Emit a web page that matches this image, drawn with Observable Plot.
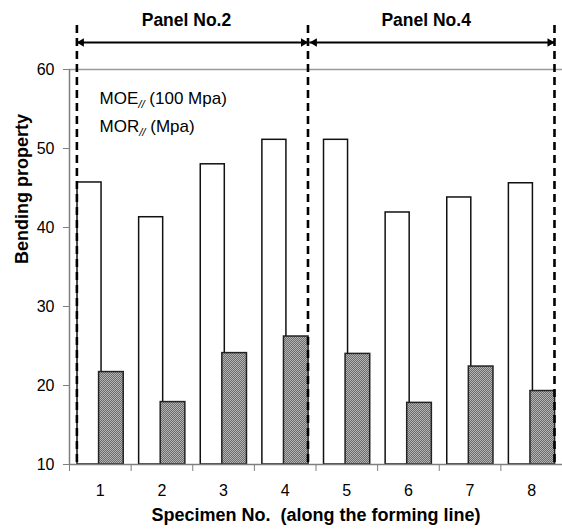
<!DOCTYPE html>
<html><head><meta charset="utf-8">
<script src="https://cdn.jsdelivr.net/npm/d3@7"></script>
<script src="https://cdn.jsdelivr.net/npm/@observablehq/plot@0.6"></script>
<style>body{margin:0;background:#fff} svg{display:block}</style>
</head><body><div id="chart"></div>
<script>
// ---- data ----
const specimens = [1, 2, 3, 4, 5, 6, 7, 8];
const moe = [45.7, 41.3, 48.0, 51.1, 51.1, 41.9, 43.8, 45.6]; // MOE// (100 Mpa)
const mor = [21.7, 17.9, 24.1, 26.2, 24.0, 17.8, 22.4, 19.3]; // MOR// (Mpa)
const yTicks = [10, 20, 30, 40, 50, 60];
const panelNames = ["Panel No.2", "Panel No.4"];
const panelFirst = [1, 5];
const panelLast = [4, 8];
const legendLabels = ["MOE// (100 Mpa)", "MOR// (Mpa)"];
const yTitle = "Bending property";
const xTitle = "Specimen No.\u00a0 (along the forming line)";

// ---- derived ----
const data = specimens.map((s, i) => ({s, moe: moe[i], mor: mor[i]}));
const bounds = [panelFirst[0] - 0.38, ...panelLast.map(l => l + 0.37)];
const arrows = panelNames.map((name, i) => ({name, x1: bounds[i] + (i > 0 ? 0.03 : 0), x2: bounds[i + 1]}));
const boundaryTicks = d3.range(specimens.length + 1).map(i => i + 0.5);
const legend = legendLabels.map((t, i) => ({t, i}));
const font = "Liberation Sans, Arial, sans-serif";
const gray = "#7f7f7f";

const svg = Plot.plot({
  width: 562, height: 531,
  marginLeft: 69, marginRight: 0, marginTop: 69, marginBottom: 67,
  style: {fontFamily: font, fontSize: "16px", color: "#000", background: "#fff"},
  x: {type: "linear", domain: [0.5, 8.5], axis: null},
  y: {domain: [10, 60], axis: null},
  marks: [
    Plot.ruleY([60], {stroke: "#9a9a9a", strokeWidth: 1.5}),
    Plot.rect(data, {x1: d => d.s - 0.37, x2: d => d.s + 0.02, y1: d => 10, y2: "moe", fill: "white", stroke: "#111", strokeWidth: 1.5}),
    Plot.rect(data, {x1: d => d.s - 0.02, x2: d => d.s + 0.38, y1: d => 10, y2: "mor", fill: "url(#checker)", stroke: "#222", strokeWidth: 1.5}),
    Plot.ruleX([0.5], {stroke: gray, strokeWidth: 1.5}),
    Plot.ruleY([10], {stroke: gray, strokeWidth: 1.5}),
    Plot.axisY(yTicks, {tickSize: 6, tickPadding: 9, stroke: gray, fontSize: 16, fill: "#000"}),
    Plot.axisX(boundaryTicks, {tickSize: 7, tickFormat: () => "", stroke: gray}),
    Plot.axisX(specimens, {tickSize: 0, tickPadding: 20, fontSize: 16, fill: "#000"}),
    Plot.ruleX(bounds, {stroke: "#000", strokeWidth: 2.6, strokeDasharray: "8,5", insetTop: -44}),
    Plot.ruleY(arrows, {x1: "x1", x2: "x2", y: d => 60, dy: -27, stroke: "#000", strokeWidth: 2}),
    Plot.dot(arrows, {x: "x2", y: d => 60, dy: -27, dx: -4.6, symbol: "triangle", r: 3.1, rotate: 90, fill: "#000", stroke: "none"}),
    Plot.dot(arrows, {x: "x1", y: d => 60, dy: -27, dx: 4.6, symbol: "triangle", r: 3.1, rotate: -90, fill: "#000", stroke: "none"}),
    Plot.text(arrows, {x: d => (d.x1 + d.x2) / 2, y: d => 60, dy: -49, dx: -6, text: "name", fontWeight: "bold", fontSize: 17.5, fill: "#000"}),
    Plot.text(legend, {filter: d => d.i === 0, frameAnchor: "top-left", dx: 30, dy: 29, text: "t", textAnchor: "start", lineAnchor: "middle", fontSize: 17, fill: "#000"}),
    Plot.text(legend, {filter: d => d.i === 1, frameAnchor: "top-left", dx: 30, dy: 57, text: "t", textAnchor: "start", lineAnchor: "middle", fontSize: 17, fill: "#000"}),
    Plot.text([yTitle], {frameAnchor: "left", dx: -47, dy: -3, rotate: -90, text: d => d, fontWeight: "bold", fontSize: 18, fill: "#000"}),
    Plot.text([xTitle], {frameAnchor: "bottom", dy: 56, text: d => d, fontWeight: "bold", fontSize: 18, fill: "#000"})
  ]
});

const ns = "http://www.w3.org/2000/svg";
const defs = document.createElementNS(ns, "defs");
defs.innerHTML = '<pattern id="checker" width="2" height="2" patternUnits="userSpaceOnUse">' +
  '<rect width="2" height="2" fill="#6c6c6c"/><rect x="0" y="0" width="1" height="1" fill="#b4b4b4"/>' +
  '<rect x="1" y="1" width="1" height="1" fill="#b4b4b4"/></pattern>';
svg.insertBefore(defs, svg.firstChild);

svg.querySelectorAll("text").forEach(t => {
  if (t.children.length === 0 && t.textContent.includes("//")) {
    const [a, b] = t.textContent.split("//");
    t.textContent = "";
    const s1 = document.createElementNS(ns, "tspan"); s1.textContent = a;
    const s2 = document.createElementNS(ns, "tspan"); s2.textContent = "//";
    s2.setAttribute("font-size", "11.5"); s2.setAttribute("font-style", "italic"); s2.setAttribute("dy", "4");
    const s3 = document.createElementNS(ns, "tspan"); s3.textContent = b; s3.setAttribute("dy", "-4");
    t.append(s1, s2, s3);
  }
});

document.getElementById("chart").append(svg);
</script>
</body></html>
